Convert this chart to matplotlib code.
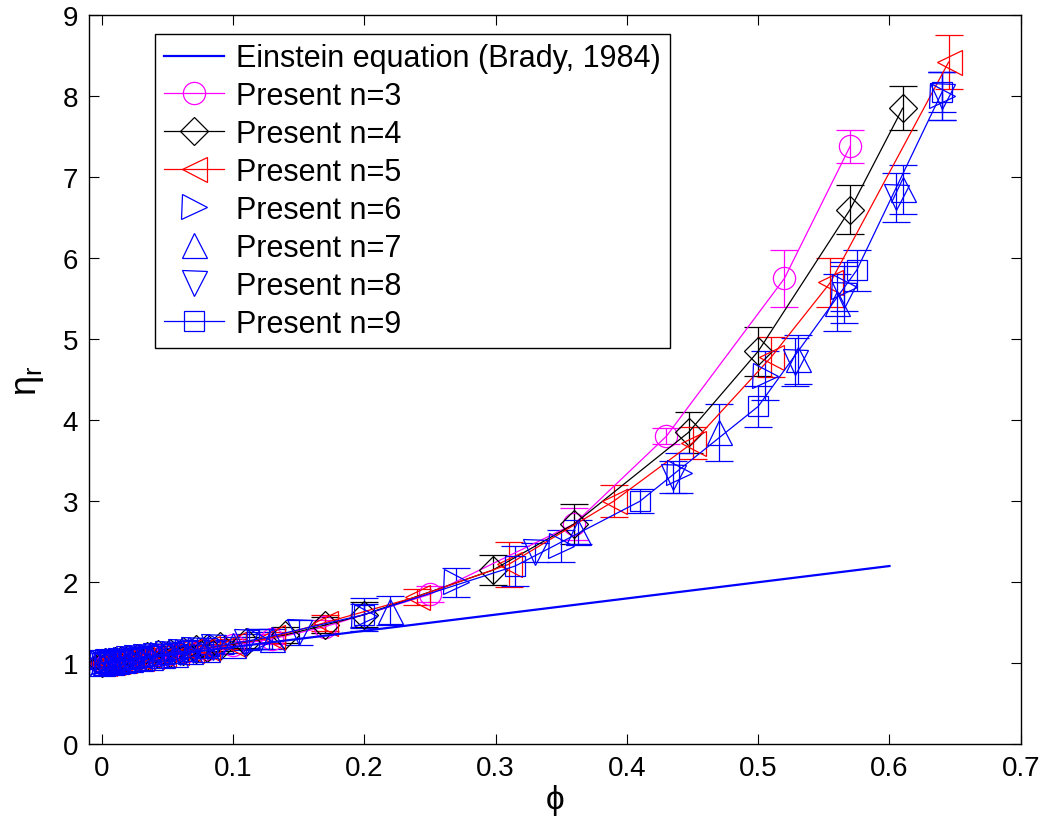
import matplotlib
matplotlib.use("Agg")
import matplotlib.pyplot as plt
from matplotlib.lines import Line2D

plt.rcParams['font.family'] = ['Liberation Sans', 'DejaVu Sans']
plt.rcParams['mathtext.fontset'] = 'custom'
plt.rcParams['mathtext.rm'] = 'Liberation Sans'
plt.rcParams['mathtext.it'] = 'Liberation Sans'

# Einstein equation
phi_ein = [0.0, 0.6]
eta_ein = [1.0, 2.2]

# n=3
phi3 = [0.0, 0.002, 0.005, 0.01, 0.015, 0.02, 0.03, 0.04, 0.05, 0.065, 0.08, 0.1, 0.13, 0.17, 0.25, 0.36, 0.43, 0.52, 0.57]
eta3 = [1.0, 1.01, 1.01, 1.03, 1.04, 1.05, 1.08, 1.1, 1.12, 1.15, 1.18, 1.22, 1.3, 1.45, 1.85, 2.72, 3.8, 5.75, 7.38]
err3 = [0.02, 0.02, 0.02, 0.03, 0.03, 0.03, 0.03, 0.04, 0.04, 0.04, 0.05, 0.05, 0.06, 0.08, 0.1, 0.2, 0.1, 0.35, 0.2]

# n=4
phi4 = [0.0, 0.003, 0.006, 0.01, 0.015, 0.02, 0.027, 0.035, 0.043, 0.052, 0.062, 0.072, 0.08, 0.09, 0.11, 0.14, 0.17, 0.2, 0.298, 0.36, 0.447, 0.5, 0.57, 0.61]
eta4 = [1.0, 1.01, 1.02, 1.03, 1.04, 1.05, 1.07, 1.09, 1.11, 1.13, 1.15, 1.17, 1.19, 1.21, 1.26, 1.35, 1.47, 1.6, 2.15, 2.72, 3.85, 4.85, 6.6, 7.85]
err4 = [0.02, 0.02, 0.02, 0.03, 0.03, 0.03, 0.03, 0.04, 0.04, 0.04, 0.05, 0.05, 0.05, 0.06, 0.07, 0.1, 0.1, 0.15, 0.18, 0.25, 0.25, 0.3, 0.3, 0.27]

# n=5
phi5 = [0.0, 0.002, 0.005, 0.008, 0.012, 0.017, 0.023, 0.03, 0.038, 0.047, 0.057, 0.068, 0.08, 0.1, 0.13, 0.17, 0.24, 0.31, 0.39, 0.45, 0.51, 0.555, 0.645]
eta5 = [1.0, 1.0, 1.01, 1.02, 1.03, 1.04, 1.06, 1.07, 1.09, 1.11, 1.14, 1.16, 1.19, 1.24, 1.32, 1.5, 1.82, 2.22, 3.0, 3.72, 4.78, 5.7, 8.42]
err5 = [0.02, 0.02, 0.02, 0.02, 0.03, 0.03, 0.03, 0.03, 0.04, 0.04, 0.04, 0.05, 0.05, 0.06, 0.07, 0.1, 0.1, 0.28, 0.2, 0.2, 0.25, 0.3, 0.33]

# n=6
phi6 = [0.0, 0.004, 0.008, 0.012, 0.018, 0.024, 0.03, 0.038, 0.046, 0.055, 0.065, 0.075, 0.09, 0.12, 0.2, 0.27, 0.35, 0.44, 0.505, 0.565, 0.64]
eta6 = [1.0, 1.01, 1.02, 1.03, 1.04, 1.05, 1.07, 1.08, 1.1, 1.12, 1.14, 1.16, 1.2, 1.28, 1.58, 2.0, 2.45, 3.35, 4.55, 5.65, 8.0]
err6 = [0.05, 0.05, 0.05, 0.05, 0.05, 0.06, 0.06, 0.06, 0.06, 0.07, 0.07, 0.08, 0.08, 0.1, 0.15, 0.18, 0.2, 0.25, 0.3, 0.3, 0.3]

# n=7
phi7 = [0.0, 0.003, 0.007, 0.011, 0.016, 0.022, 0.029, 0.037, 0.046, 0.056, 0.067, 0.08, 0.1, 0.13, 0.22, 0.363, 0.47, 0.53, 0.56, 0.61]
eta7 = [1.0, 1.01, 1.02, 1.03, 1.04, 1.05, 1.07, 1.08, 1.1, 1.12, 1.15, 1.18, 1.23, 1.3, 1.65, 2.62, 3.85, 4.75, 5.45, 6.85]
err7 = [0.05, 0.05, 0.05, 0.05, 0.05, 0.06, 0.06, 0.06, 0.07, 0.07, 0.07, 0.08, 0.1, 0.12, 0.18, 0.15, 0.35, 0.3, 0.35, 0.3]

# n=8
phi8 = [0.0, 0.002, 0.005, 0.009, 0.014, 0.02, 0.026, 0.033, 0.041, 0.05, 0.06, 0.07, 0.085, 0.11, 0.15, 0.33, 0.435, 0.528, 0.565, 0.605, 0.64]
eta8 = [1.0, 1.0, 1.01, 1.02, 1.03, 1.05, 1.06, 1.08, 1.09, 1.11, 1.14, 1.16, 1.2, 1.26, 1.38, 2.37, 3.3, 4.72, 5.55, 6.75, 8.0]
err8 = [0.06, 0.06, 0.06, 0.06, 0.06, 0.06, 0.06, 0.07, 0.07, 0.07, 0.08, 0.08, 0.09, 0.1, 0.15, 0.12, 0.2, 0.3, 0.35, 0.3, 0.3]

# n=9
phi9 = [0.0, 0.003, 0.006, 0.01, 0.014, 0.019, 0.025, 0.031, 0.038, 0.046, 0.055, 0.065, 0.08, 0.12, 0.2, 0.315, 0.41, 0.5, 0.575, 0.64]
eta9 = [1.0, 1.01, 1.02, 1.03, 1.04, 1.05, 1.06, 1.08, 1.09, 1.11, 1.13, 1.15, 1.19, 1.3, 1.6, 2.2, 3.0, 4.17, 5.85, 8.05]
err9 = [0.07, 0.07, 0.07, 0.07, 0.07, 0.07, 0.07, 0.08, 0.08, 0.08, 0.08, 0.09, 0.1, 0.12, 0.2, 0.25, 0.15, 0.25, 0.25, 0.25]

labels = ['Einstein equation (Brady, 1984)', 'Present n=3', 'Present n=4', 'Present n=5',
          'Present n=6', 'Present n=7', 'Present n=8', 'Present n=9']

fig = plt.figure(figsize=(10.44, 8.29), dpi=100)
ax = fig.add_axes([0.0853, 0.101, 0.8925, 0.8796])

MAG = '#FF00FF'
BLU = '#0000FF'
RED = '#FF0000'
BLK = '#000000'

series = [
    (phi3, eta3, err3, MAG, 'o', 16, '-'),
    (phi4, eta4, err4, BLK, 'D', 14, '-'),
    (phi5, eta5, err5, RED, '<', 18, '-'),
    (phi6, eta6, err6, BLU, '>', 18, 'none'),
    (phi7, eta7, err7, BLU, '^', 18, 'none'),
    (phi8, eta8, err8, BLU, 'v', 18, 'none'),
    (phi9, eta9, err9, BLU, 's', 14, '-'),
]

ax.plot(phi_ein, eta_ein, color=BLU, lw=1.6, zorder=5)
for x, y, e, c, m, ms, ls in series:
    ax.errorbar(x, y, yerr=e, color=c, marker=m, markersize=ms, markerfacecolor='none',
                markeredgecolor=c, markeredgewidth=0.9, linestyle=ls, linewidth=0.9,
                capsize=10, capthick=0.9, elinewidth=0.9)

handles = [Line2D([], [], color=BLU, lw=1.6)]
for x, y, e, c, m, ms, ls in series:
    handles.append(Line2D([], [], color=c, marker=m, markersize=ms, markerfacecolor='none',
                          markeredgecolor=c, markeredgewidth=0.9, linestyle=ls, linewidth=0.9))

leg = ax.legend(handles, labels, loc='upper left', bbox_to_anchor=(0.071, 0.974),
                borderaxespad=0, fontsize=22, frameon=True, fancybox=False,
                edgecolor='black', framealpha=1, handlelength=1.95, handletextpad=0.4,
                labelspacing=0.26, borderpad=0.3)
leg.get_frame().set_linewidth(1.0)

ax.set_xlim(-0.0095, 0.7)
ax.set_ylim(0, 9)
ax.set_xticks([0, 0.1, 0.2, 0.3, 0.4, 0.5, 0.6, 0.7])
ax.set_xticklabels(['0', '0.1', '0.2', '0.3', '0.4', '0.5', '0.6', '0.7'])
ax.set_yticks(range(10))
ax.tick_params(direction='in', length=7, width=0.8, labelsize=20, top=True, right=True, pad=8)
for s in ax.spines.values():
    s.set_linewidth(1.0)

ax.set_xlabel('ϕ', fontsize=24, labelpad=2)
ax.set_ylabel(r'$\eta_r$', fontsize=26, labelpad=12)

fig.savefig('out.png', dpi=100)
